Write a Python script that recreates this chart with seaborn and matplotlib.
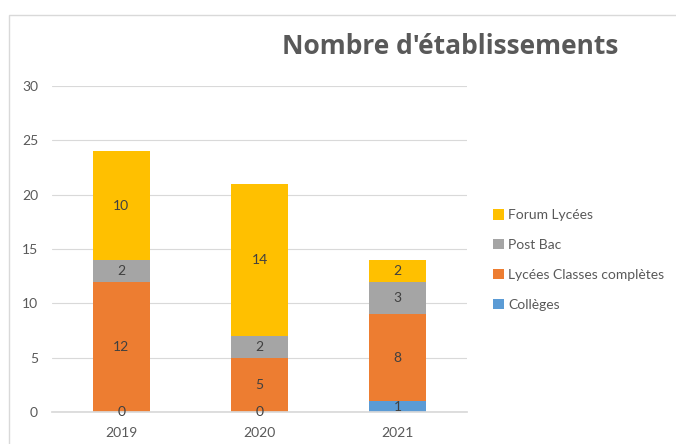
import numpy as np
import pandas as pd
import seaborn as sns
import matplotlib.pyplot as plt
from matplotlib.patches import Patch, Rectangle

sns.set_theme(style="white")
plt.rcParams['font.family'] = ['Lato', 'DejaVu Sans']

years = [2019, 2020, 2021]
series = ["Forum Lycées", "Post Bac", "Lycées Classes complètes", "Collèges"]
forum = [10, 14, 2]
post_bac = [2, 2, 3]
lycees = [12, 5, 8]
colleges = [0, 0, 1]
colors = ["#FFC000", "#A5A5A5", "#ED7D31", "#5B9BD5"]

values = {
    "Forum Lycées": forum,
    "Post Bac": post_bac,
    "Lycées Classes complètes": lycees,
    "Collèges": colleges,
}
df = pd.DataFrame(
    [(y, s, values[s][i]) for s in series for i, y in enumerate(years)],
    columns=["year", "serie", "n"],
)

text_col = "#595959"

fig = plt.figure(figsize=(6.76, 4.44), dpi=100)
# chart frame (cropped on the right/bottom as in the original)
fig.patches.append(Rectangle((9 / 676, -0.1), 1.2, 1 - 15 / 444 + 0.1,
                             transform=fig.transFigure, fill=False,
                             edgecolor="#D9D9D9", linewidth=1))
ax = fig.add_axes([52 / 676, 1 - 412 / 444, 415 / 676, 326 / 444])

sns.histplot(data=df, x="year", hue="serie", weights="n", hue_order=series,
             multiple="stack", discrete=True, shrink=0.41,
             palette=dict(zip(series, colors)), alpha=1, linewidth=0,
             legend=False, ax=ax)

# value labels, stacking order is Collèges at bottom
for cont in ax.containers:
    ax.bar_label(cont, label_type="center", fmt="%d", fontsize=10,
                 color="#404040")

ax.set_xlim(2018.5, 2021.5)
ax.set_ylim(0, 30)
ax.set_xticks(years)
ax.set_xticklabels([str(y) for y in years])
ax.set_yticks(np.arange(0, 31, 5))
ax.yaxis.grid(True, color="#D9D9D9", linewidth=0.8)
ax.set_axisbelow(True)
for s in ["top", "right", "left"]:
    ax.spines[s].set_visible(False)
ax.spines["bottom"].set_color("#D9D9D9")
ax.tick_params(axis="both", length=0, labelsize=10, labelcolor=text_col)
ax.tick_params(axis="y", pad=10)
ax.tick_params(axis="x", pad=11)
ax.set_xlabel("")
ax.set_ylabel("")

handles = [Patch(facecolor=c, edgecolor="none", label=s)
           for s, c in zip(series, colors)]
fig.legend(handles=handles, loc="center left",
           bbox_to_anchor=(489 / 676, 1 - 260 / 444), frameon=False,
           fontsize=10, labelcolor=text_col, handlelength=0.75,
           handleheight=0.75, handletextpad=0.35, labelspacing=1.28,
           borderaxespad=0, borderpad=0.3)

fig.text(450 / 676, 1 - 47 / 444, "Nombre d'établissements", ha="center",
         va="center", fontsize=19, fontweight="bold", color=text_col,
         family=["Open Sans", "DejaVu Sans"])

fig.savefig("out.png", dpi=100)
